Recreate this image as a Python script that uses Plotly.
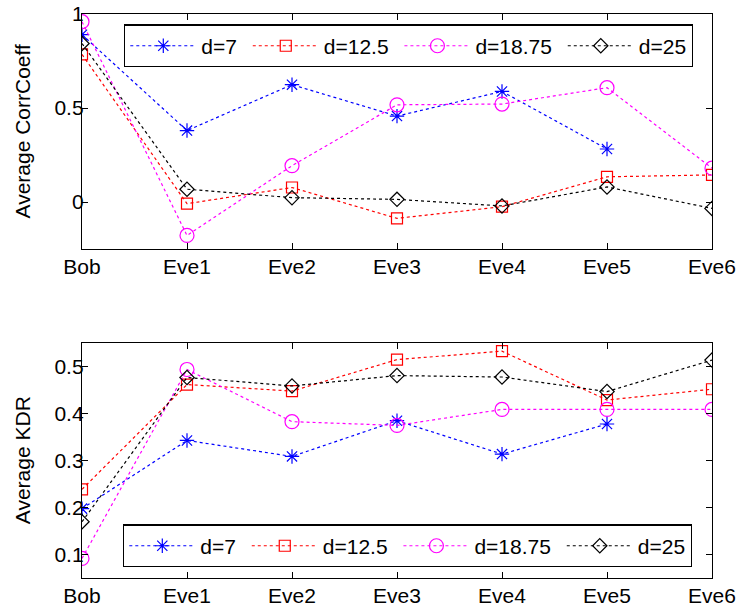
import plotly.graph_objects as go

categories = ["Bob", "Eve1", "Eve2", "Eve3", "Eve4", "Eve5", "Eve6"]
series_names = ["d=7", "d=12.5", "d=18.75", "d=25"]

# Average CorrCoeff (top panel)
corr_d7 = [0.89, 0.38, 0.624, 0.457, 0.588, 0.282, None]
corr_d12_5 = [0.785, -0.009, 0.077, -0.087, -0.025, 0.134, 0.144]
corr_d18_75 = [0.959, -0.178, 0.193, 0.517, 0.521, 0.608, 0.18]
corr_d25 = [0.843, 0.068, 0.023, 0.014, -0.021, 0.08, -0.034]

# Average KDR (bottom panel)
kdr_d7 = [0.197, 0.342, 0.308, 0.384, 0.313, 0.377, None]
kdr_d12_5 = [0.238, 0.461, 0.447, 0.514, 0.532, 0.428, 0.451]
kdr_d18_75 = [0.091, 0.493, 0.382, 0.374, 0.408, 0.408, 0.408]
kdr_d25 = [0.169, 0.476, 0.458, 0.480, 0.477, 0.446, 0.513]

corr_ticks = [0, 0.5, 1]
corr_tick_labels = ["0", "0.5", "1"]
kdr_ticks = [0.1, 0.2, 0.3, 0.4, 0.5]
kdr_tick_labels = ["0.1", "0.2", "0.3", "0.4", "0.5"]

y_titles = ["Average CorrCoeff", "Average KDR"]

styles = [
    dict(color="#0000ff", symbol="asterisk-open", size=12),
    dict(color="#ff0000", symbol="square-open", size=11),
    dict(color="#ff00ff", symbol="circle-open", size=14),
    dict(color="#000000", symbol="diamond-open", size=11),
]

FONT = "Liberation Sans, Arial, Helvetica, sans-serif"
PAD = "\u00a0"  # visual spacing between legend entries

W, H = 739, 612


def px_x(v):
    return v / W


def px_y(v):
    return 1 - v / H


fig = go.Figure()
x_idx = list(range(len(categories)))


def legend_name(i, name):
    return name + (PAD if i < len(series_names) - 1 else "")


for i, (vals, name, st) in enumerate(zip([corr_d7, corr_d12_5, corr_d18_75, corr_d25], series_names, styles)):
    fig.add_trace(go.Scatter(
        x=x_idx, y=vals, name=legend_name(i, name), mode="lines+markers",
        xaxis="x", yaxis="y", legend="legend",
        line=dict(color=st["color"], width=1.2, dash="3px,3px"),
        marker=dict(symbol=st["symbol"], size=st["size"], color=st["color"],
                    line=dict(color=st["color"], width=1.2)),
    ))

for i, (vals, name, st) in enumerate(zip([kdr_d7, kdr_d12_5, kdr_d18_75, kdr_d25], series_names, styles)):
    fig.add_trace(go.Scatter(
        x=x_idx, y=vals, name=legend_name(i, name), mode="lines+markers",
        xaxis="x2", yaxis="y2", legend="legend2",
        line=dict(color=st["color"], width=1.2, dash="3px,3px"),
        marker=dict(symbol=st["symbol"], size=st["size"], color=st["color"],
                    line=dict(color=st["color"], width=1.2)),
    ))

axis_common = dict(
    showline=True, linecolor="black", linewidth=1.3, mirror="allticks",
    ticks="inside", ticklen=6, tickcolor="black", tickwidth=1,
    showgrid=False, zeroline=False, automargin=False,
    tickfont=dict(family=FONT, size=21, color="black"),
)

xdom = [px_x(82), px_x(712)]
top_dom = [px_y(249), px_y(14)]
bot_dom = [px_y(577.7), px_y(342.7)]

legend_common = dict(
    orientation="h", xanchor="left", yanchor="top",
    bordercolor="black", borderwidth=1.3, bgcolor="white",
    font=dict(family=FONT, size=21), itemwidth=66,
)

fig.update_layout(
    width=W, height=H, autosize=False,
    margin=dict(l=0, r=0, t=0, b=0, autoexpand=False),
    paper_bgcolor="white", plot_bgcolor="white",
    font=dict(family=FONT, size=21, color="black"),
    xaxis=dict(domain=xdom, anchor="y", range=[0, 6], tickmode="array",
               tickvals=x_idx, ticktext=categories, ticklabelstandoff=-1, **axis_common),
    yaxis=dict(domain=top_dom, anchor="x", range=[-0.25, 1],
               tickmode="array", tickvals=corr_ticks, ticktext=corr_tick_labels,
               ticklabelstandoff=-7, **axis_common),
    xaxis2=dict(domain=xdom, anchor="y2", range=[0, 6], tickmode="array",
                tickvals=x_idx, ticktext=categories, ticklabelstandoff=-1, **axis_common),
    yaxis2=dict(domain=bot_dom, anchor="x2", range=[0.05, 0.55],
                tickmode="array", tickvals=kdr_ticks, ticktext=kdr_tick_labels,
                ticklabelstandoff=-7, **axis_common),
    legend=dict(x=px_x(124), y=px_y(24.3), **legend_common),
    legend2=dict(x=px_x(123), y=px_y(524.3), **legend_common),
    annotations=[
        dict(text=y_titles[0], xref="paper", yref="paper", x=px_x(22),
             y=sum(top_dom) / 2, xanchor="center", yanchor="middle",
             textangle=-90, showarrow=False, font=dict(family=FONT, size=21)),
        dict(text=y_titles[1], xref="paper", yref="paper", x=px_x(22),
             y=sum(bot_dom) / 2, xanchor="center", yanchor="middle",
             textangle=-90, showarrow=False, font=dict(family=FONT, size=21)),
    ],
)

fig.write_html("out.html", config={"displayModeBar": False},
               post_script="document.body.style.margin='0';")
